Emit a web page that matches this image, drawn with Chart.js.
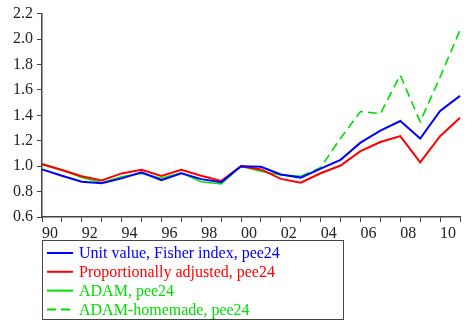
<!DOCTYPE html>
<html>
<head>
<meta charset="utf-8">
<script src="https://cdn.jsdelivr.net/npm/chart.js@4.4.1/dist/chart.umd.min.js"></script>
<style>
  html, body { margin: 0; padding: 0; background: #fff; }
</style>
</head>
<body>
<canvas id="priceChart" width="476" height="324"></canvas>
<script>
const years = ['1990', '1991', '1992', '1993', '1994', '1995', '1996', '1997', '1998', '1999', '2000',
               '2001', '2002', '2003', '2004', '2005', '2006', '2007', '2008', '2009', '2010', '2011'];

const unitValueFisher = [0.975, 0.924, 0.877, 0.865, 0.904, 0.951, 0.890, 0.943, 0.898, 0.873, 1.000,
                         0.995, 0.935, 0.910, 0.980, 1.050, 1.185, 1.280, 1.355, 1.217, 1.435, 1.553];
const propAdjusted = [1.015, 0.970, 0.920, 0.888, 0.943, 0.972, 0.922, 0.972, 0.924, 0.883, 1.000,
                      0.974, 0.900, 0.870, 0.944, 1.005, 1.118, 1.190, 1.236, 1.030, 1.236, 1.380];
const adam = [1.020, 0.970, 0.910, 0.870, 0.917, 0.943, 0.904, 0.948, 0.877, 0.860, 1.000,
              0.960, 0.930, 0.920, null, null, null, null, null, null, null, null];
const adamHomemade = [null, null, null, null, null, null, null, null, null, null, null,
                      null, null, 0.920, 0.990, 1.220, 1.430, 1.413, 1.715, 1.350, 1.700, 2.070];

const seriesNames = ['Unit value, Fisher index, pee24', 'Proportionally adjusted, pee24',
                     'ADAM, pee24', 'ADAM-homemade, pee24'];
const yTicks = [0.6, 0.8, 1.0, 1.2, 1.4, 1.6, 1.8, 2.0, 2.2];

const serif = "'Liberation Serif', 'Times New Roman', serif";
const axisColor = '#444';

// boxed legend under the plot, one row per dataset
const boxLegend = {
  id: 'boxLegend',
  afterDraw(chart) {
    const ctx = chart.ctx;
    const x = chart.chartArea.left, y = 240, w = 301, h = 79;
    ctx.save();
    ctx.strokeStyle = axisColor;
    ctx.lineWidth = 1;
    ctx.strokeRect(x + 0.5, y + 0.5, w, h);
    ctx.font = '16px ' + serif;
    ctx.textBaseline = 'middle';
    chart.data.datasets.forEach((ds, i) => {
      const cy = y + 13 + i * 18.8;
      ctx.beginPath();
      ctx.setLineDash(ds.borderDash || []);
      ctx.strokeStyle = ds.borderColor;
      ctx.lineWidth = 2;
      ctx.moveTo(x + 5, cy);
      ctx.lineTo(x + 31, cy);
      ctx.stroke();
      ctx.setLineDash([]);
      ctx.fillStyle = ds.borderColor;
      ctx.fillText(ds.label, x + 37, cy + 1);
    });
    ctx.restore();
  }
};

const ctx = document.getElementById('priceChart').getContext('2d');
new Chart(ctx, {
  type: 'line',
  data: {
    labels: years,
    datasets: [
      { label: seriesNames[0], data: unitValueFisher, borderColor: '#0000ff', borderWidth: 2 },
      { label: seriesNames[1], data: propAdjusted, borderColor: '#ff0000', borderWidth: 2 },
      { label: seriesNames[2], data: adam, borderColor: '#00dd00', borderWidth: 1.6 },
      { label: seriesNames[3], data: adamHomemade, borderColor: '#00dd00', borderWidth: 1.6, borderDash: [9, 5] }
    ]
  },
  options: {
    responsive: false,
    animation: false,
    layout: { padding: { top: 13, right: 16, left: 0, bottom: 0 } },
    elements: {
      point: { radius: 0 },
      line: { tension: 0, fill: false }
    },
    plugins: {
      legend: { display: false },
      tooltip: { enabled: false }
    },
    scales: {
      x: {
        offset: false,
        border: { color: axisColor, width: 1.5 },
        grid: { drawOnChartArea: false, tickLength: 5, color: axisColor },
        ticks: {
          autoSkip: false,
          maxRotation: 0,
          padding: 2,
          labelOffset: 8,
          color: '#222',
          font: { family: serif, size: 16 },
          callback: function(value) {
            const yr = Number(this.getLabelForValue(value));
            return yr % 2 === 0 ? String(yr).slice(2) : '';
          }
        },
        afterFit: scale => { scale.height = 107; }
      },
      y: {
        min: yTicks[0],
        max: yTicks[yTicks.length - 1],
        border: { color: axisColor, width: 1.5 },
        grid: { drawOnChartArea: false, tickLength: 5, color: axisColor },
        afterBuildTicks: scale => { scale.ticks = yTicks.map(v => ({ value: v })); },
        ticks: {
          padding: 4,
          color: '#222',
          font: { family: serif, size: 16 },
          callback: v => v.toFixed(1)
        },
        afterFit: scale => { scale.width = 42; }
      }
    }
  },
  plugins: [boxLegend]
});
</script>
</body>
</html>
